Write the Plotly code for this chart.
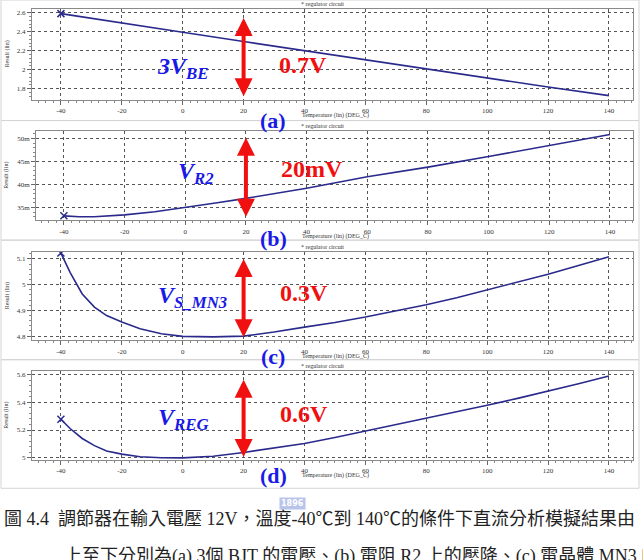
import plotly.graph_objects as go

W, H = 643, 560

# ---------------- data ----------------
temp_a = [-40, -20, 0, 20, 40, 60, 80, 100, 120, 140]
v_3vbe = [2.590, 2.495, 2.394, 2.296, 2.199, 2.104, 2.007, 1.912, 1.818, 1.727]

temp_b = [-40, -35, -30, -20, -10, 0, 10, 20, 40, 60, 80, 100, 120, 140]
v_r2 = [0.0332, 0.0330, 0.0330, 0.0334, 0.0341, 0.0350, 0.0360, 0.0370, 0.0392,
        0.0417, 0.0438, 0.0461, 0.0485, 0.0509]

temp_c = [-40, -37, -33, -29, -25, -20, -14, -7, 0, 10, 20, 30, 40, 50, 60, 70,
          80, 90, 100, 110, 120, 130, 140]
v_smn3 = [5.123, 5.048, 4.964, 4.913, 4.880, 4.855, 4.829, 4.809, 4.799, 4.797,
          4.800, 4.816, 4.835, 4.853, 4.874, 4.897, 4.922, 4.949, 4.979, 5.009,
          5.041, 5.075, 5.109]

temp_d = [-40, -37, -33, -29, -25, -20, -14, -7, 0, 10, 20, 30, 40, 50, 60, 70,
          80, 90, 100, 110, 120, 130, 140]
v_reg = [5.278, 5.211, 5.139, 5.087, 5.048, 5.026, 5.007, 5.000, 4.999, 5.010,
         5.038, 5.068, 5.103, 5.146, 5.192, 5.237, 5.283, 5.330, 5.379, 5.429,
         5.480, 5.534, 5.590]

x_ticks = [-40, -20, 0, 20, 40, 60, 80, 100, 120, 140]

yt_a = [1.8, 2.0, 2.2, 2.4, 2.6]
yl_a = ["1.8", "2", "2.2", "2.4", "2.6"]
yt_b = [0.035, 0.040, 0.045, 0.050]
yl_b = ["35m", "40m", "45m", "50m"]
yt_c = [4.8, 4.9, 5.0, 5.1]
yl_c = ["4.8", "4.9", "5", "5.1"]
yt_d = [5.0, 5.2, 5.4, 5.6]
yl_d = ["5", "5.2", "5.4", "5.6"]

labels_sig = ["3V<sub>BE</sub>", "V<sub>R2</sub>", "V<sub>S_MN3</sub>", "V<sub>REG</sub>"]
labels_delta = ["0.7V", "20mV", "0.3V", "0.6V"]
labels_panel = ["(a)", "(b)", "(c)", "(d)"]

# ---------------- layout geometry (pixels) ----------------
def px(x):
    return x / W

def py(y):
    return 1 - y / H

panels = [
    dict(x=temp_a, y=v_3vbe, xl=32, xr=633, yt=9.3, yb=100, xr_rng=[-49.5, 147.9],
         yr=[1.685, 2.636], tv=yt_a, tt=yl_a, ym=0.04, arrow=(2.544, 1.706),
         sig=(182, 68), dl=(303, 65), pl=(273, 121)),
    dict(x=temp_b, y=v_r2, xl=36, xr=633, yt=131.7, yb=221, xr_rng=[-49.2, 147.6],
         yr=[0.03225, 0.0516], tv=yt_b, tt=yl_b, ym=0.001, arrow=(0.0502, 0.0327),
         sig=(196, 174), dl=(312, 170), pl=(273, 239)),
    dict(x=temp_c, y=v_smn3, xl=32, xr=633, yt=252.7, yb=341.7, xr_rng=[-49.5, 147.9],
         yr=[4.783, 5.128], tv=yt_c, tt=yl_c, ym=0.02, arrow=(5.1, 4.79),
         sig=(192, 298), dl=(304, 294), pl=(273, 358)),
    dict(x=temp_d, y=v_reg, xl=32, xr=633, yt=372.7, yb=461.7, xr_rng=[-49.5, 147.9],
         yr=[4.983, 5.624], tv=yt_d, tt=yl_d, ym=0.04, arrow=(5.564, 4.995),
         sig=(183, 420), dl=(304, 415), pl=(273, 477)),
]

NAVY = "#2a2a8c"
BLUE = "#1a1ae6"
RED = "#f01010"
TICKFONT = dict(family="Liberation Serif", size=7, color="#333")

fig = go.Figure()
annotations = []
shapes = []

# panel separators
for (y0, y1) in [(0, 121), (121, 241), (241, 361), (361, 490)]:
    shapes.append(dict(type="rect", xref="paper", yref="paper",
                       x0=px(1), x1=px(639), y0=py(y1), y1=py(y0),
                       line=dict(color="#d4d4d4", width=1), layer="below"))


def label(xp, yp, text, font, **kw):
    d = dict(x=px(xp), y=py(yp), xref="paper", yref="paper", text=text,
             showarrow=False, xanchor="center", yanchor="middle", font=font)
    d.update(kw)
    annotations.append(d)


for i, p in enumerate(panels):
    n = "" if i == 0 else str(i + 1)
    xa = "x" + n
    ya = "y" + n
    fig.add_trace(go.Scatter(x=p["x"], y=p["y"], xaxis=xa, yaxis=ya, mode="lines",
                             line=dict(color=NAVY, width=1.6), showlegend=False))
    fig.add_trace(go.Scatter(x=p["x"][:1], y=p["y"][:1], xaxis=xa, yaxis=ya, mode="markers",
                             marker=dict(symbol="x-thin", size=7, line=dict(color=NAVY, width=1.5)),
                             showlegend=False))
    xaxis = dict(domain=[px(p["xl"]), px(p["xr"])], range=p["xr_rng"], anchor=ya,
                 tickvals=x_ticks, ticktext=[str(v) for v in x_ticks],
                 showgrid=True, gridcolor="#555", griddash="dot", gridwidth=1,
                 showline=True, mirror=True, linecolor="#8a8a8a", linewidth=1,
                 ticks="outside", ticklen=4, tickcolor="#666", tickfont=TICKFONT,
                 minor=dict(tick0=-40, dtick=2.5, ticks="outside", ticklen=2, tickcolor="#888", showgrid=False),
                 zeroline=False, fixedrange=True)
    yaxis = dict(domain=[py(p["yb"]), py(p["yt"])], range=p["yr"], anchor=xa,
                 tickvals=p["tv"], ticktext=p["tt"],
                 showgrid=True, gridcolor="#555", griddash="dot", gridwidth=1,
                 showline=True, mirror=True, linecolor="#8a8a8a", linewidth=1,
                 ticks="outside", ticklen=4, tickcolor="#666", tickfont=TICKFONT,
                 minor=dict(dtick=p["ym"], ticks="outside", ticklen=2, tickcolor="#888", showgrid=False),
                 zeroline=False, fixedrange=True)
    fig.update_layout(**{"xaxis" + n: xaxis, "yaxis" + n: yaxis})

    # red double arrow at T = 20
    annotations.append(dict(x=20, y=p["arrow"][0], ax=20, ay=p["arrow"][1], xref=xa, yref=ya,
                            axref=xa, ayref=ya, text="", showarrow=True, arrowhead=2,
                            startarrowhead=2, arrowside="end+start", arrowsize=0.9,
                            startarrowsize=0.9, arrowwidth=4, arrowcolor=RED, standoff=0,
                            startstandoff=0))
    label(p["sig"][0], p["sig"][1], "<b><i>" + labels_sig[i] + "</i></b>",
          dict(family="Liberation Serif", size=24, color=BLUE))
    label(p["dl"][0], p["dl"][1], "<b>" + labels_delta[i] + "</b>",
          dict(family="Liberation Serif", size=24, color=RED))
    label(p["pl"][0], p["pl"][1], "<b>" + labels_panel[i] + "</b>",
          dict(family="Liberation Serif", size=22, color=BLUE))
    small = dict(family="Liberation Serif", size=6, color="#333")
    label(322, p["yt"] - 5, "* regulator circuit", small)
    label(335, p["yb"] + 16, "Temperature (lin) (DEG_C)", small)
    label(7, (p["yt"] + p["yb"]) / 2, "Result (lin)", small, textangle=-90)

# caption
CAP = dict(family="Liberation Serif, Noto Sans CJK TC", size=18, color="#222")
label(2, 521, "圖 4.4  調節器在輸入電壓 12V，溫度-40℃到 140℃的條件下直流分析模擬結果由",
      CAP, xanchor="left")
label(62, 558, "上至下分別為(a) 3個 BJT 的電壓、(b) 電阻 R2 上的壓降、(c) 電晶體 MN3 的",
      CAP, xanchor="left")
label(292, 505, "<b>1896</b>", dict(family="DejaVu Sans", size=8, color="white"),
      bgcolor="#a8b6e6", opacity=0.8)

fig.update_layout(width=W, height=H, margin=dict(l=0, r=0, t=0, b=0),
                  paper_bgcolor="white", plot_bgcolor="white",
                  annotations=annotations, shapes=shapes, showlegend=False)

fig.write_html("out.html")
